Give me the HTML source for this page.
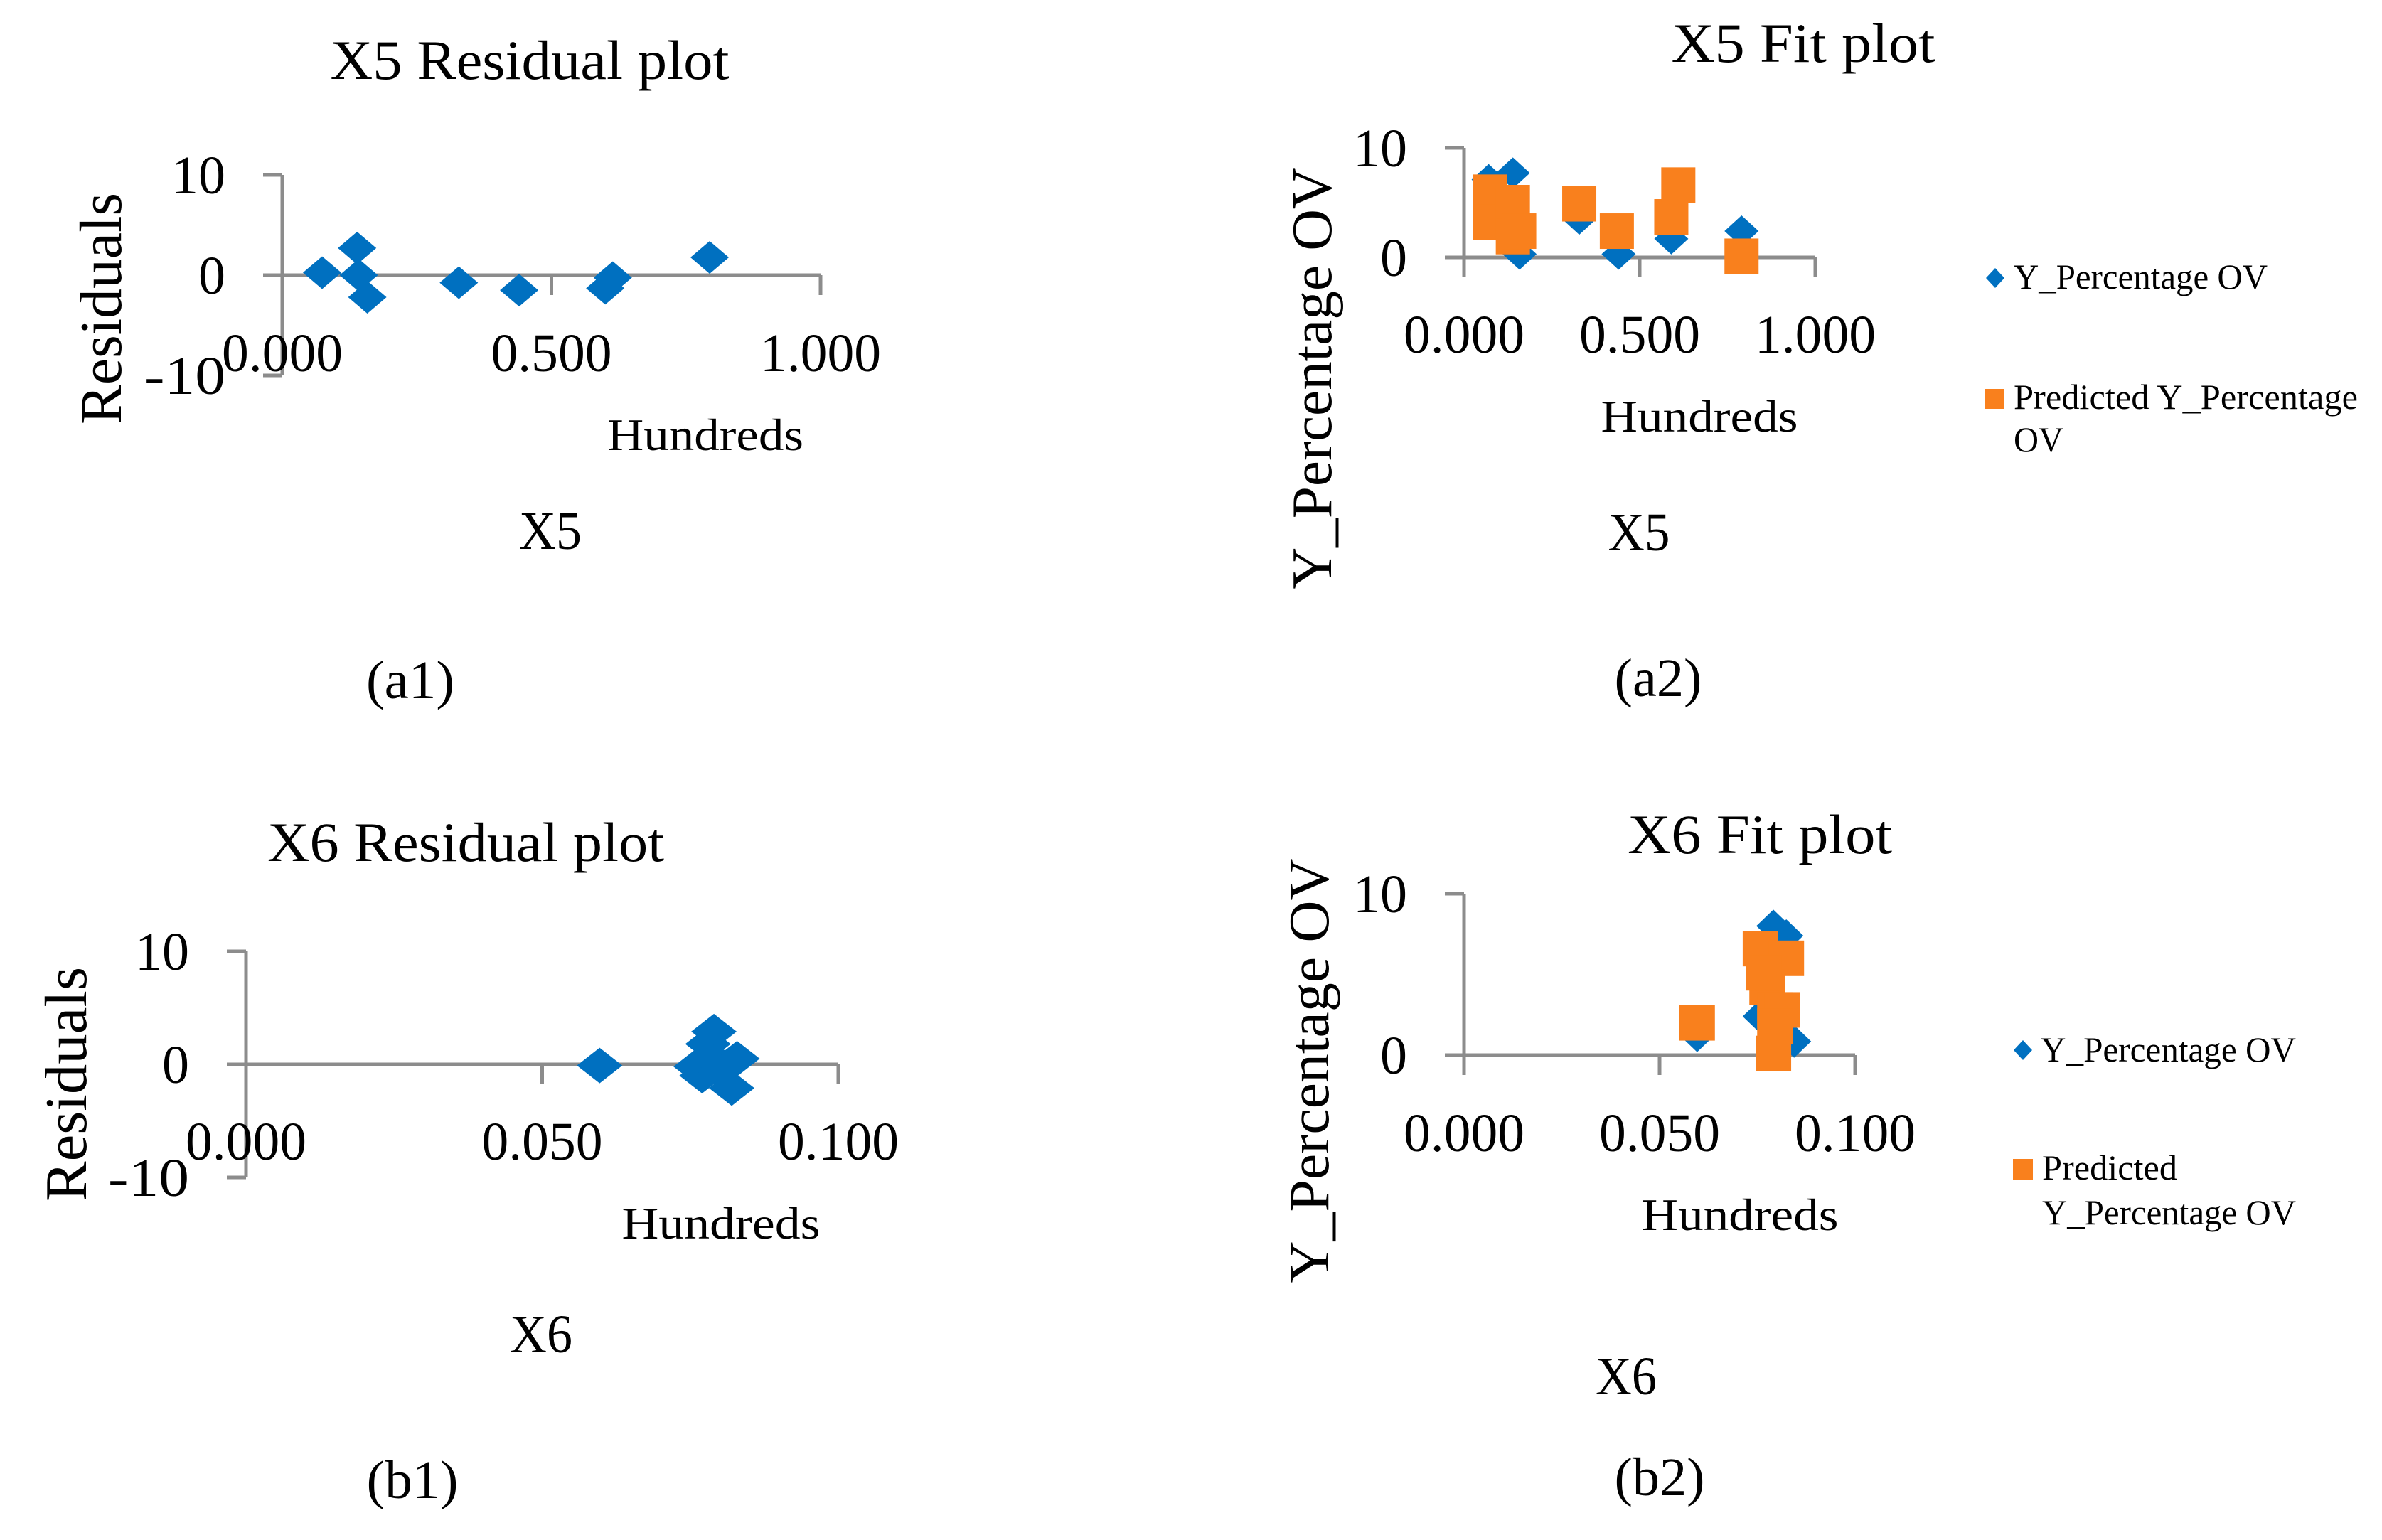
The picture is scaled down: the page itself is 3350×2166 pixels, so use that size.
<!DOCTYPE html>
<html><head><meta charset="utf-8">
<style>
html,body{margin:0;padding:0;background:#fff;overflow:hidden;}
svg{display:block;}
text{font-family:"Liberation Serif",serif;fill:#000;}
.ax{stroke:#8c8c8c;stroke-width:5;fill:none;}
</style></head>
<body>
<svg id="fig" width="3350" height="2166" viewBox="0 0 3350 2166" xmlns="http://www.w3.org/2000/svg">
<rect width="3350" height="2166" fill="#fff"/>
<g id="a1"></g>
<g id="a2"></g>
<g id="b1"></g>
<g id="b2"></g>
</svg>
<script>
// ---- data ----
const a1X = [0.074,0.139,0.142,0.158,0.328,0.44,0.60,0.614,0.794];
const a1Res = [0.25,2.7,0,-2.2,-0.75,-1.5,-1.3,-0.25,1.77];
const a2ActX = [0.070,0.139,0.158,0.328,0.44,0.59,0.79];
const a2Act = [7.1,7.7,0.3,3.5,0.3,1.7,2.4];
const a2PredX = [0.074,0.074,0.139,0.139,0.157,0.328,0.435,0.59,0.61,0.79];
const a2Pred = [5.95,3.2,5.0,1.9,2.4,4.9,2.4,3.7,6.6,0.1];
const b1X = [0.0597,0.076,0.079,0.078,0.077,0.0793,0.0829,0.082,0.080];
const b1Res = [-0.1,-0.2,2.9,1.8,-1.0,0.3,0.5,-2.1,-0.6];
const b2ActX = [0.0791,0.0824,0.0844,0.0756,0.0596];
const b2Act = [8.0,7.4,0.85,2.4,1.2];
const b2PredX = [0.0596,0.0758,0.0824,0.0775,0.0795,0.0814,0.0791,0.0766,0.0795];
const b2Pred = [2.0,6.6,6.0,4.2,2.8,2.8,0.1,5.1,1.8];
const x5Ticks = ["0.000","0.500","1.000"];
const x6Ticks = ["0.000","0.050","0.100"];
const resYTicks = ["10","0","-10"];
const fitYTicks = ["10","0"];

const NS="http://www.w3.org/2000/svg";
function el(parent,tag,attrs){const e=document.createElementNS(NS,tag);for(const k in attrs)e.setAttribute(k,attrs[k]);parent.appendChild(e);return e;}
function txt(parent,x,y,s,size,anchor,len,rot){
  const t=el(parent,'text',{x:x,y:y,'font-size':size,'text-anchor':anchor||'start'});
  if(len){t.setAttribute('textLength',len);t.setAttribute('lengthAdjust','spacingAndGlyphs');}
  if(rot)t.setAttribute('transform','rotate(-90 '+x+' '+y+')');
  t.textContent=s;return t;
}
function diamond(g,cx,cy,hw,hh){
  return el(g,'polygon',{points:(cx)+','+(cy-hh)+' '+(cx+hw)+','+cy+' '+cx+','+(cy+hh)+' '+(cx-hw)+','+cy,fill:'#0070c0'});
}
function square(g,cx,cy,hw,hh){
  return el(g,'rect',{x:cx-hw,y:cy-hh,width:2*hw,height:2*hh,fill:'#f9801d'});
}

function panel(g,o){
  const sx=v=>o.x0+(v-o.xmin)/(o.xmax-o.xmin)*(o.x1-o.x0);
  const sy=v=>o.y0-(v)/(10)*(o.y0-o.ytop);
  const yBottom=o.ymin<0?sy(o.ymin):o.y0+28;
  const ya=el(g,'line',{x1:o.x0,y1:o.ytop,x2:o.x0,y2:yBottom,class:'ax'});
  
  const xa=el(g,'line',{x1:o.x0,y1:o.y0,x2:o.x1,y2:o.y0,class:'ax'});
  
  o.yTicks.forEach(lbl=>{
    const v=parseFloat(lbl);const y=sy(v);
    const tk=el(g,'line',{x1:o.x0-27,y1:y,x2:o.x0,y2:y,class:'ax'});
    
    const t=txt(g,o.x0-80,y+26,lbl,76,'end',lbl.length*38);
    
  });
  o.xTicks.forEach(lbl=>{
    const v=parseFloat(lbl);const x=sx(v);
    const tk=el(g,'line',{x1:x,y1:o.y0,x2:x,y2:o.y0+28,class:'ax'});
    
    const t=txt(g,x,o.xLblY,lbl,76,'middle',170);
    
  });
  return {sx,sy};
}

// ---- a1 ----
(function(){
  const g=document.getElementById('a1');
  const t=txt(g,745,111,'X5 Residual plot',78,'middle',561);
  
  const s=panel(g,{x0:397,x1:1154,xmin:0,xmax:1,y0:387,ytop:246,ymin:-10,yTicks:resYTicks,xTicks:x5Ticks,xLblY:522});
  a1X.forEach((x,i)=>{const d=diamond(g,s.sx(x),s.sy(a1Res[i]),27,23);
    
    });
  let u=txt(g,992,633,'Hundreds',64,'middle',276);
  u=txt(g,774,772,'X5',76,'middle',88);
  u=txt(g,577,982,'(a1)',76,'middle',124);
  u=txt(g,170,434,'Residuals',84,'middle',326,true);
})();

// ---- a2 ----
(function(){
  const g=document.getElementById('a2');
  let t=txt(g,2536,87,'X5 Fit  plot',78,'middle',371);
  
  const s=panel(g,{x0:2059,x1:2553,xmin:0,xmax:1,y0:362,ytop:208,ymin:0,yTicks:fitYTicks,xTicks:x5Ticks,xLblY:496});
  a2ActX.forEach((x,i)=>{const d=diamond(g,s.sx(x),s.sy(a2Act[i]),24,22);
    
    });
  a2PredX.forEach((x,i)=>{const d=square(g,s.sx(x),s.sy(a2Pred[i]),24,25);
    
    });
  let u=txt(g,2390,607,'Hundreds',64,'middle',277);
  u=txt(g,2305,774,'X5',76,'middle',87);
  u=txt(g,2332,979,'(a2)',76,'middle',123);
  u=txt(g,1872,532,'Y_Percentage OV',80,'middle',593,true);
  const lg=el(g,'g',{});
  let m=diamond(lg,2806,391,13,14);
  u=txt(lg,2832,406,'Y_Percentage OV',50,'start',357);
  m=square(lg,2805,561,13,14);
  u=txt(lg,2832,575,'Predicted Y_Percentage',50,'start',484);
  u=txt(lg,2832,635,'OV',50,'start',70);
})();

// ---- b1 ----
(function(){
  const g=document.getElementById('b1');
  const t=txt(g,655,1211,'X6 Residual plot',78,'middle',558);
  
  const s=panel(g,{x0:346,x1:1179,xmin:0,xmax:0.1,y0:1497,ytop:1338,ymin:-10,yTicks:resYTicks,xTicks:x6Ticks,xLblY:1631});
  b1X.forEach((x,i)=>{const d=diamond(g,s.sx(x),s.sy(b1Res[i]),32,25);
    
    });
  let u=txt(g,1014,1742,'Hundreds',64,'middle',279);
  u=txt(g,761,1902,'X6',76,'middle',88);
  u=txt(g,580,2107,'(b1)',76,'middle',129);
  u=txt(g,121,1525,'Residuals',84,'middle',330,true);
})();

// ---- b2 ----
(function(){
  const g=document.getElementById('b2');
  let t=txt(g,2475,1200,'X6 Fit  plot',78,'middle',372);
  
  const s=panel(g,{x0:2059,x1:2609,xmin:0,xmax:0.1,y0:1484,ytop:1257,ymin:0,yTicks:fitYTicks,xTicks:x6Ticks,xLblY:1619});
  b2ActX.forEach((x,i)=>{const d=diamond(g,s.sx(x),s.sy(b2Act[i]),24,23);
    
    });
  b2PredX.forEach((x,i)=>{const d=square(g,s.sx(x),s.sy(b2Pred[i]),25,25);
    
    });
  let u=txt(g,2447,1730,'Hundreds',64,'middle',277);
  u=txt(g,2287,1961,'X6',76,'middle',86);
  u=txt(g,2334,2103,'(b2)',76,'middle',127);
  u=txt(g,1868,1506,'Y_Percentage OV',80,'middle',597,true);
  const lg=el(g,'g',{});
  let m=diamond(lg,2845,1477,13,14);
  u=txt(lg,2870,1493,'Y_Percentage OV',50,'start',359);
  m=square(lg,2845,1645,14,15);
  u=txt(lg,2872,1659,'Predicted',50,'start',190);
  u=txt(lg,2872,1722,'Y_Percentage OV',50,'start',357);
})();
</script>
</body></html>
